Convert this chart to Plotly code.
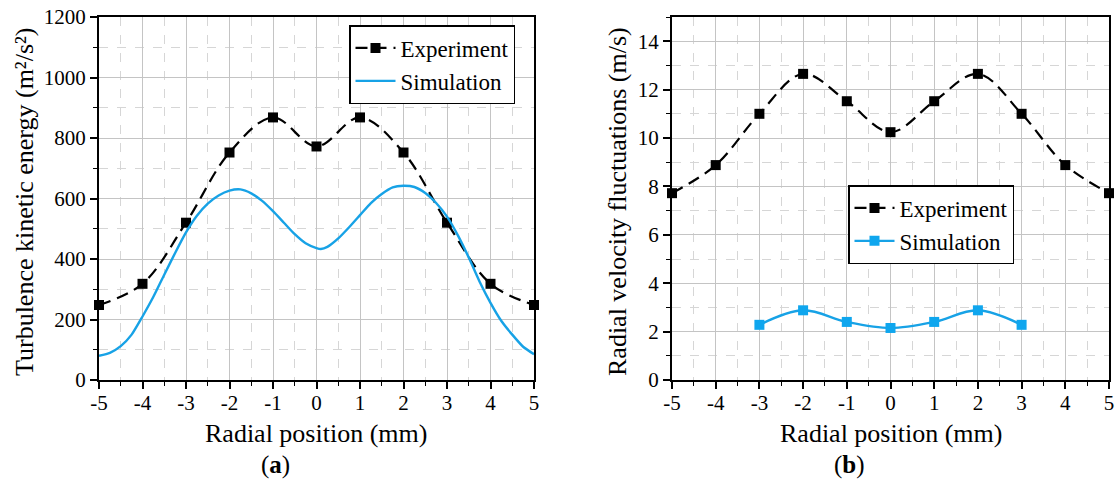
import plotly.graph_objects as go

# ---------------- data ----------------
x_exp = [-5, -4, -3, -2, -1, 0, 1, 2, 3, 4, 5]
tke_exp = [248, 318, 520, 752, 868, 772, 868, 752, 520, 318, 248]

x_sim_a = [-5, -4.75, -4.5, -4.25, -4, -3.75, -3.5, -3.25, -3, -2.75, -2.5, -2.25, -2,
           -1.75, -1.5, -1.25, -1, -0.75, -0.5, -0.25, 0, 0.1, 0.25, 0.5, 0.75, 1,
           1.25, 1.5, 1.75, 2, 2.25, 2.5, 2.75, 3, 3.25, 3.5, 3.75, 4, 4.25, 4.5, 4.75, 5]
tke_sim = [80, 90, 112, 150, 210, 275, 348, 420, 488, 543, 583, 610, 626,
           630, 617, 592, 558, 520, 482, 452, 436, 433, 440, 468, 505, 545,
           585, 615, 637, 642, 638, 618, 585, 540, 478, 405, 325, 255, 195, 150, 110, 85]

rvf_exp = [7.72, 8.88, 11.0, 12.65, 11.52, 10.24, 11.52, 12.65, 11.0, 8.88, 7.72]
x_sim_b = [-3, -2, -1, 0, 1, 2, 3]
rvf_sim = [2.28, 2.88, 2.4, 2.15, 2.4, 2.88, 2.28]

x_ticks = [-5, -4, -3, -2, -1, 0, 1, 2, 3, 4, 5]
x_ticktext = ["-5", "-4", "-3", "-2", "-1", "0", "1", "2", "3", "4", "5"]

# ---------------- styling ----------------
W, H = 1117, 485
FONT = "Liberation Serif, Times New Roman, serif"
BLUE = "#17a2e6"
BLUE_M = "#0fa6ee"

def px(x):
    return x / W

def py(y):
    return 1 - y / H

fig = go.Figure()

fig.add_trace(go.Scatter(
    x=x_exp, y=tke_exp, name="Experiment", mode="lines+markers",
    line=dict(color="black", width=2.2, dash="12px,7px", shape="spline", smoothing=1),
    marker=dict(symbol="square", size=10, color="black"),
    xaxis="x", yaxis="y", legend="legend", cliponaxis=False))
fig.add_trace(go.Scatter(
    x=x_sim_a, y=tke_sim, name="Simulation", mode="lines",
    line=dict(color=BLUE, width=2.4, shape="spline", smoothing=0.6),
    xaxis="x", yaxis="y", legend="legend", cliponaxis=False))

fig.add_trace(go.Scatter(
    x=x_exp, y=rvf_exp, name="Experiment", mode="lines+markers",
    line=dict(color="black", width=2.2, dash="12px,7px", shape="spline", smoothing=1),
    marker=dict(symbol="square", size=10, color="black"),
    xaxis="x2", yaxis="y2", legend="legend2", cliponaxis=False))
fig.add_trace(go.Scatter(
    x=x_sim_b, y=rvf_sim, name="Simulation", mode="lines+markers",
    line=dict(color=BLUE, width=2.4, shape="spline", smoothing=1),
    marker=dict(symbol="square", size=10, color=BLUE_M),
    xaxis="x2", yaxis="y2", legend="legend2", cliponaxis=False))

common_axis = dict(
    showline=True, linecolor="black", linewidth=2, mirror=True,
    ticks="outside", ticklen=7, tickwidth=1.5, tickcolor="black",
    showgrid=True, gridcolor="#c4c4c4", gridwidth=1,
    zeroline=False,
    tickfont=dict(family=FONT, size=21, color="black"),
    automargin=False,
)
minor_style = dict(ticks="outside", ticklen=4, tickwidth=1.2, tickcolor="black",
                   showgrid=True, gridcolor="#d6d6d6", griddash="dash", gridwidth=1)

yd = [py(380), py(17)]

fig.update_layout(
    width=W, height=H,
    margin=dict(l=0, r=0, t=0, b=0),
    paper_bgcolor="white", plot_bgcolor="white",
    showlegend=True,
    xaxis=dict(common_axis, domain=[px(99), px(534)], range=[-5, 5], anchor="y",
               tickmode="array", tickvals=x_ticks, ticktext=x_ticktext,
               ticklabelstandoff=-4,
               minor=dict(minor_style, dtick=0.5, tick0=-5)),
    yaxis=dict(common_axis, domain=yd, range=[0, 1200], anchor="x",
               tick0=0, dtick=200, minor=dict(minor_style, dtick=100, tick0=0)),
    xaxis2=dict(common_axis, domain=[px(672), px(1109)], range=[-5, 5], anchor="y2",
                tickmode="array", tickvals=x_ticks, ticktext=x_ticktext,
                ticklabelstandoff=-4,
                minor=dict(minor_style, dtick=0.5, tick0=-5)),
    yaxis2=dict(common_axis, domain=yd, range=[0, 15], anchor="x2",
                tick0=0, dtick=2, minor=dict(minor_style, dtick=1, tick0=0)),
    legend=dict(x=px(349), y=py(25), xanchor="left", yanchor="top",
                bgcolor="white", bordercolor="black", borderwidth=1.5,
                font=dict(family=FONT, size=23, color="black"),
                itemwidth=40, tracegroupgap=0),
    legend2=dict(x=px(848), y=py(185), xanchor="left", yanchor="top",
                 bgcolor="white", bordercolor="black", borderwidth=1.5,
                 font=dict(family=FONT, size=23, color="black"),
                 itemwidth=40, tracegroupgap=0),
)

ann_font = dict(family=FONT, size=26, color="black")
annotations = [
    dict(text="Radial position (mm)", x=px(316), y=py(433), showarrow=False,
         xanchor="center", yanchor="middle", font=ann_font),
    dict(text="Radial position (mm)", x=px(891), y=py(433), showarrow=False,
         xanchor="center", yanchor="middle", font=ann_font),
    dict(text="Turbulence kinetic energy (m²/s²)", x=px(24), y=py(202), textangle=-90,
         showarrow=False, xanchor="center", yanchor="middle", font=ann_font),
    dict(text="Radial velocity fluctuations (m/s)", x=px(617), y=py(202), textangle=-90,
         showarrow=False, xanchor="center", yanchor="middle", font=ann_font),
    dict(text="(<b>a</b>)", x=px(275), y=py(465), showarrow=False,
         xanchor="center", yanchor="middle", font=dict(family=FONT, size=25, color="black")),
    dict(text="(<b>b</b>)", x=px(849), y=py(465), showarrow=False,
         xanchor="center", yanchor="middle", font=dict(family=FONT, size=25, color="black")),
]
for a in annotations:
    a["xref"] = "paper"
    a["yref"] = "paper"
fig.update_layout(annotations=annotations)

fig.write_html("out.html")
